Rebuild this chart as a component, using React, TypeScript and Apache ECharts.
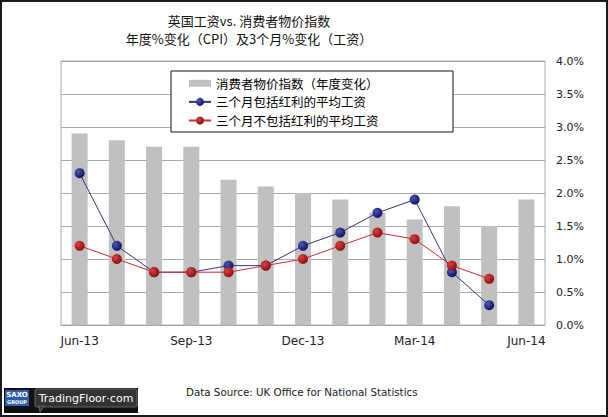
import React, { useEffect, useRef } from "react";
import * as echarts from "echarts";

const categories = [
  "Jun-13", "Jul-13", "Aug-13", "Sep-13", "Oct-13", "Nov-13", "Dec-13",
  "Jan-14", "Feb-14", "Mar-14", "Apr-14", "May-14", "Jun-14",
];
const cpiAnnual = [2.9, 2.8, 2.7, 2.7, 2.2, 2.1, 2.0, 1.9, 1.7, 1.6, 1.8, 1.5, 1.9];
const wagesInclBonus = [2.3, 1.2, 0.8, 0.8, 0.9, 0.9, 1.2, 1.4, 1.7, 1.9, 0.8, 0.3, null];
const wagesExclBonus = [1.2, 1.0, 0.8, 0.8, 0.8, 0.9, 1.0, 1.2, 1.4, 1.3, 0.9, 0.7, null];

const seriesNames = [
  "消费者物价指数（年度变化）",
  "三个月包括红利的平均工资",
  "三个月不包括红利的平均工资",
];
const titleLines = ["英国工资vs. 消费者物价指数", "年度%变化（CPI）及3个月%变化（工资）"];
const sourceText = "Data Source: UK Office for National Statistics";

export default function App() {
  const ref = useRef<HTMLDivElement>(null);
  useEffect(() => {
    if (!ref.current) return;
    const chart = echarts.init(ref.current, undefined, { renderer: "svg" });
    const blueFill = new echarts.graphic.RadialGradient(0.35, 0.35, 0.75, [
      { offset: 0, color: "#4a58b0" },
      { offset: 1, color: "#0a0a5c" },
    ]);
    const redFill = new echarts.graphic.RadialGradient(0.35, 0.35, 0.75, [
      { offset: 0, color: "#d84040" },
      { offset: 1, color: "#8a0808" },
    ]);
    const cjk = "'Noto Sans CJK SC', 'SimSun', sans-serif";
    chart.setOption({
      animation: false,
      backgroundColor: "#fff",
      grid: {
        left: 61,
        right: 63,
        top: 61,
        bottom: 92,
        show: true,
        borderColor: "#a8a8a8",
        borderWidth: 1,
      },
      legend: {
        orient: "vertical",
        left: 188,
        top: 74,
        padding: 0,
        itemWidth: 22,
        itemHeight: 10,
        itemGap: 0,
        textStyle: { fontSize: 12.5, lineHeight: 18.6, color: "#000", fontFamily: cjk },
        data: [
          { name: seriesNames[0], icon: "path://M0,0h22v7h-22z" },
          { name: seriesNames[1] },
          { name: seriesNames[2] },
        ],
      },
      xAxis: {
        type: "category",
        data: categories,
        boundaryGap: true,
        axisTick: { show: false },
        axisLine: { lineStyle: { color: "#a8a8a8" } },
        axisLabel: {
          interval: 2,
          margin: 10,
          fontSize: 12,
          color: "#222",
          fontFamily: "'DejaVu Sans', Verdana, sans-serif",
        },
      },
      yAxis: {
        type: "value",
        position: "right",
        min: 0,
        max: 4,
        interval: 0.5,
        axisLine: { show: false },
        axisTick: { show: false },
        splitLine: { lineStyle: { color: "#a8a8a8", width: 1 } },
        axisLabel: {
          margin: 11,
          fontSize: 11,
          color: "#222",
          fontFamily: "'DejaVu Sans', Verdana, sans-serif",
          formatter: (v: number) => v.toFixed(1) + "%",
        },
      },
      series: [
        {
          name: seriesNames[0],
          type: "bar",
          data: cpiAnnual,
          barWidth: 16,
          itemStyle: { color: "#c0c0c0" },
        },
        {
          name: seriesNames[1],
          type: "line",
          data: wagesInclBonus,
          symbol: "circle",
          symbolSize: 10,
          lineStyle: { color: "#34347e", width: 1 },
          itemStyle: { color: blueFill, borderWidth: 0 },
          z: 3,
        },
        {
          name: seriesNames[2],
          type: "line",
          data: wagesExclBonus,
          symbol: "circle",
          symbolSize: 10,
          lineStyle: { color: "#c83030", width: 1 },
          itemStyle: { color: redFill, borderWidth: 0 },
          z: 4,
        },
      ],
      graphic: [
        {
          type: "rect",
          shape: { x: 1, y: 1, width: 606, height: 415 },
          style: { fill: "none", stroke: "#1a1a1a", lineWidth: 2 },
          z: 10,
        },
        {
          type: "rect",
          shape: { x: 171, y: 71, width: 282, height: 61 },
          style: { fill: "#fff", stroke: "#111", lineWidth: 1 },
          z: 3,
        },
        {
          type: "text",
          x: 249,
          y: 20,
          style: {
            text: titleLines[0],
            fill: "#111",
            font: "13px " + cjk,
            align: "center",
            verticalAlign: "middle",
          },
        },
        {
          type: "text",
          x: 249,
          y: 38,
          style: {
            text: titleLines[1],
            fill: "#111",
            font: "13px " + cjk,
            align: "center",
            verticalAlign: "middle",
          },
        },
        {
          type: "text",
          x: 186,
          y: 392,
          style: {
            text: sourceText,
            fill: "#222",
            font: "10.3px 'DejaVu Sans', Verdana, sans-serif",
            align: "left",
            verticalAlign: "middle",
          },
        },
        {
          type: "group",
          children: [
            { type: "rect", shape: { x: 4, y: 388, width: 134, height: 25 }, style: { fill: "#111" } },
            { type: "rect", shape: { x: 5, y: 390, width: 24, height: 16 }, style: { fill: "#2d5ea8" } },
            {
              type: "text",
              x: 17,
              y: 395,
              style: { text: "SAXO", fill: "#fff", font: "bold 7px 'DejaVu Sans', sans-serif", align: "center", verticalAlign: "middle" },
            },
            {
              type: "text",
              x: 17,
              y: 402,
              style: { text: "GROUP", fill: "#fff", font: "bold 5px 'DejaVu Sans', sans-serif", align: "center", verticalAlign: "middle" },
            },
            {
              type: "rect",
              shape: { x: 35, y: 389, width: 102, height: 18, r: 2 },
              style: { fill: "#333", stroke: "#777", lineWidth: 0.8 },
            },
            {
              type: "polygon",
              shape: { points: [[39, 406], [44, 406], [40, 412]] },
              style: { fill: "#333", stroke: "#777", lineWidth: 0.8 },
            },
            {
              type: "text",
              x: 86,
              y: 398,
              style: { text: "TradingFloor·com", fill: "#fff", font: "11px 'DejaVu Sans', sans-serif", align: "center", verticalAlign: "middle" },
            },
          ],
        },
      ],
    });
    return () => chart.dispose();
  }, []);
  return (
    <div
      ref={ref}
      style={{ position: "absolute", left: 0, top: 0, width: 608, height: 417 }}
    />
  );
}
